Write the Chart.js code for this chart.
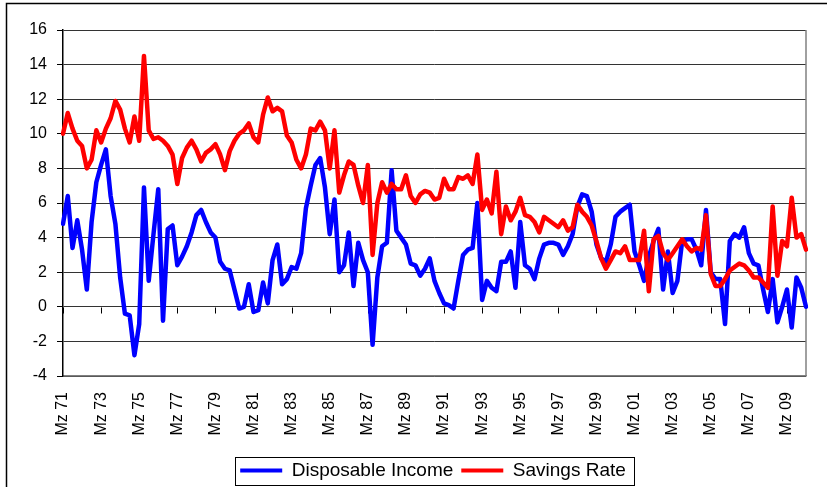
<!DOCTYPE html>
<html>
<head>
<meta charset="utf-8">
<title>Disposable Income and Savings Rate</title>
<script src="https://cdn.jsdelivr.net/npm/chart.js@4.4.0/dist/chart.umd.min.js"></script>
<style>
  html, body { margin: 0; padding: 0; background: #fff; }
  canvas { display: block; }
</style>
</head>
<body>
<canvas id="myChart" width="827" height="487"></canvas>
<script>
// quarterly values, Mz 71 .. Mz 10
const quarterNames = ['Mz', 'Jun', 'Sep', 'Dez'];
const firstYear = 1971;
const lastYear = 2010;

const tickLabels = ['Mz 71', 'Mz 73', 'Mz 75', 'Mz 77', 'Mz 79', 'Mz 81', 'Mz 83', 'Mz 85', 'Mz 87', 'Mz 89',
                    'Mz 91', 'Mz 93', 'Mz 95', 'Mz 97', 'Mz 99', 'Mz 01', 'Mz 03', 'Mz 05', 'Mz 07', 'Mz 09'];
const yTicks = [-4, -2, 0, 2, 4, 6, 8, 10, 12, 14, 16];

const disposableIncome = [
  4.8, 6.4, 3.4, 5.0, 3.3, 1.0, 4.9, 7.2, 8.2, 9.1,
  6.4, 4.8, 1.7, -0.4, -0.5, -2.8, -1.0, 6.9, 1.5, 4.2,
  6.8, -0.8, 4.5, 4.7, 2.4, 2.9, 3.5, 4.3, 5.3, 5.6,
  4.9, 4.3, 4.0, 2.6, 2.2, 2.1, 1.0, -0.1, 0.0, 1.3,
  -0.3, -0.2, 1.4, 0.2, 2.7, 3.6, 1.3, 1.6, 2.3, 2.2,
  3.1, 5.7, 7.0, 8.2, 8.6, 6.9, 4.2, 6.2, 2.0, 2.4,
  4.3, 1.2, 3.7, 2.7, 2.0, -2.2, 1.7, 3.5, 3.7, 7.9,
  4.4, 4.0, 3.6, 2.5, 2.4, 1.8, 2.2, 2.8, 1.5, 0.8,
  0.2, 0.1, -0.1, 1.5, 3.0, 3.3, 3.4, 6.0, 0.4, 1.5,
  1.1, 0.9, 2.6, 2.6, 3.2, 1.1, 4.9, 2.4, 2.2, 1.6,
  2.8, 3.6, 3.7, 3.7, 3.6, 3.0, 3.5, 4.2, 5.8, 6.5,
  6.4, 5.5, 3.6, 2.8, 2.6, 3.6, 5.2, 5.5, 5.7, 5.9,
  3.2, 2.4, 1.5, 2.9, 3.8, 4.5, 1.0, 3.2, 0.8, 1.5,
  3.8, 3.9, 3.9, 3.3, 2.4, 5.6, 2.0, 1.6, 1.6, -1.0,
  3.8, 4.2, 4.0, 4.6, 3.1, 2.5, 2.4, 1.0, -0.3, 1.6,
  -0.9, 0.0, 1.0, -1.2, 1.7, 1.1, 0.0
];

const savingsRate = [
  10.0, 11.2, 10.3, 9.6, 9.3, 8.0, 8.5, 10.2, 9.5, 10.3,
  10.9, 11.9, 11.4, 10.3, 9.5, 11.0, 9.6, 14.5, 10.2, 9.7,
  9.8, 9.6, 9.3, 8.8, 7.1, 8.6, 9.2, 9.6, 9.1, 8.4,
  8.9, 9.1, 9.4, 8.8, 7.9, 9.0, 9.6, 10.0, 10.2, 10.6,
  9.8, 9.5, 11.1, 12.1, 11.3, 11.5, 11.3, 9.9, 9.5, 8.5,
  8.0, 8.8, 10.3, 10.2, 10.7, 10.2, 8.0, 10.2, 6.6, 7.6,
  8.4, 8.2, 7.0, 6.0, 8.2, 3.0, 6.0, 7.2, 6.6, 7.1,
  6.8, 6.8, 7.6, 6.4, 6.0, 6.5, 6.7, 6.6, 6.2, 6.3,
  7.4, 6.8, 6.8, 7.5, 7.4, 7.6, 7.1, 8.8, 5.6, 6.2,
  5.4, 7.8, 4.2, 5.8, 5.0, 5.5, 6.3, 5.3, 5.2, 4.9,
  4.3, 5.2, 5.0, 4.8, 4.6, 5.0, 4.4, 4.6, 5.9, 5.5,
  5.2, 4.7, 3.8, 2.8, 2.2, 2.7, 3.2, 3.1, 3.5, 2.7,
  2.7, 2.7, 4.4, 0.9, 3.9, 4.1, 3.1, 2.7, 3.1, 3.5,
  3.9, 3.5, 3.2, 3.4, 3.3, 5.3, 1.9, 1.2, 1.2, 1.6,
  2.1, 2.3, 2.5, 2.4, 2.1, 1.7, 1.7, 1.4, 1.1, 5.8,
  1.8, 3.8, 3.5, 6.3, 4.0, 4.2, 3.3
];

// category labels, one per quarter
var labels = [];
for (var y = firstYear; y <= lastYear; y++) {
    quarterNames.forEach(function(q) {
        if (labels.length < disposableIncome.length) {
            labels.push(q + ' ' + String(y).slice(2));
        }
    });
}

const FONT = "'Liberation Sans', Arial, sans-serif";

// frame of the chart, plot border, ticks on the zero line, legend box
const decorations = {
    id: 'decorations',
    afterLayout(chart) {
        // legend sits a bit right of centre and lower, like the original
        var lg = chart.legend;
        lg.left += 26;
        lg.right += 26;
        lg.top += 3;
        lg.bottom += 3;
    },
    beforeDraw(chart) {
        const ctx = chart.ctx;
        ctx.save();
        ctx.fillStyle = '#ffffff';
        ctx.fillRect(0, 0, chart.width, chart.height);
        ctx.strokeStyle = '#000000';
        ctx.lineWidth = 1.5;
        ctx.beginPath();
        ctx.moveTo(6.5, chart.height + 2);
        ctx.lineTo(6.5, 3.5);
        ctx.lineTo(chart.width + 2, 3.5);
        ctx.stroke();
        ctx.restore();
    },
    beforeDatasetsDraw(chart) {
        const ctx = chart.ctx;
        const area = chart.chartArea;
        const xs = chart.scales.x;
        const ys = chart.scales.y;
        const y0 = Math.round(ys.getPixelForValue(0)) + 0.5;
        ctx.save();
        ctx.strokeStyle = '#808080';
        ctx.lineWidth = 1.5;
        ctx.beginPath();
        ctx.moveTo(area.right, area.top);
        ctx.lineTo(area.right, area.bottom);
        ctx.stroke();
        ctx.strokeStyle = '#000000';
        ctx.lineWidth = 1;
        ctx.beginPath();
        tickLabels.forEach(function(t) {
            var x = Math.round(xs.getPixelForValue(labels.indexOf(t))) + 0.5;
            ctx.moveTo(x, y0);
            ctx.lineTo(x, y0 + 6);
        });
        ctx.stroke();
        ctx.restore();
    },
    afterDraw(chart) {
        const boxes = chart.legend.legendHitBoxes;
        if (!boxes || !boxes.length) return;
        const first = boxes[0];
        const last = boxes[boxes.length - 1];
        const cy = first.top + first.height / 2;
        const ctx = chart.ctx;
        ctx.save();
        ctx.strokeStyle = '#000000';
        ctx.lineWidth = 1;
        ctx.strokeRect(Math.round(first.left - 5) + 0.5, Math.round(cy - 14) + 0.5,
                       Math.round(last.left + last.width - first.left + 13), 28);
        ctx.restore();
    }
};

var ctx = document.getElementById('myChart').getContext('2d');

var chart = new Chart(ctx, {
    type: 'line',
    data: {
        labels: labels,
        datasets: [{
            label: 'Disposable Income',
            data: disposableIncome,
            borderColor: '#0000ff',
            backgroundColor: '#0000ff',
            borderWidth: 4.5,
            order: 2
        }, {
            label: 'Savings Rate',
            data: savingsRate,
            borderColor: '#ff0000',
            backgroundColor: '#ff0000',
            borderWidth: 4.5,
            order: 1
        }]
    },
    options: {
        responsive: false,
        animation: false,
        devicePixelRatio: 1,
        elements: {
            point: { radius: 0 },
            line: { tension: 0, borderJoinStyle: 'round', borderCapStyle: 'round' }
        },
        layout: {
            padding: { left: 8, right: 21, top: 30, bottom: 0 }
        },
        scales: {
            x: {
                grid: { display: false },
                border: { display: true, color: '#808080', width: 1.5 },
                ticks: {
                    autoSkip: false,
                    maxRotation: 90,
                    minRotation: 90,
                    padding: 8,
                    color: '#000000',
                    font: { family: FONT, size: 16 },
                    callback: function(value, index) {
                        return tickLabels.indexOf(labels[index]) >= 0 ? labels[index] : null;
                    }
                },
                afterFit: function(scale) { scale.height = 74; }
            },
            y: {
                min: yTicks[0],
                max: yTicks[yTicks.length - 1],
                grid: { color: '#333333', lineWidth: 1, tickLength: 6, tickColor: '#000000' },
                border: { display: true, color: '#000000', width: 1.5 },
                ticks: {
                    stepSize: 2,
                    padding: 10,
                    color: '#000000',
                    font: { family: FONT, size: 16 }
                },
                afterFit: function(scale) { scale.width = 55; }
            }
        },
        plugins: {
            tooltip: { enabled: false },
            legend: {
                position: 'bottom',
                labels: {
                    boxWidth: 42,
                    boxHeight: 4,
                    padding: 8,
                    color: '#000000',
                    font: { family: FONT, size: 19 },
                    generateLabels: function(chart) {
                        var items = Chart.defaults.plugins.legend.labels.generateLabels(chart);
                        items.sort(function(a, b) { return a.datasetIndex - b.datasetIndex; });
                        items.forEach(function(it) {
                            it.fillStyle = it.strokeStyle;
                            it.lineWidth = 0;
                        });
                        return items;
                    }
                }
            }
        }
    },
    plugins: [decorations]
});
</script>
</body>
</html>
